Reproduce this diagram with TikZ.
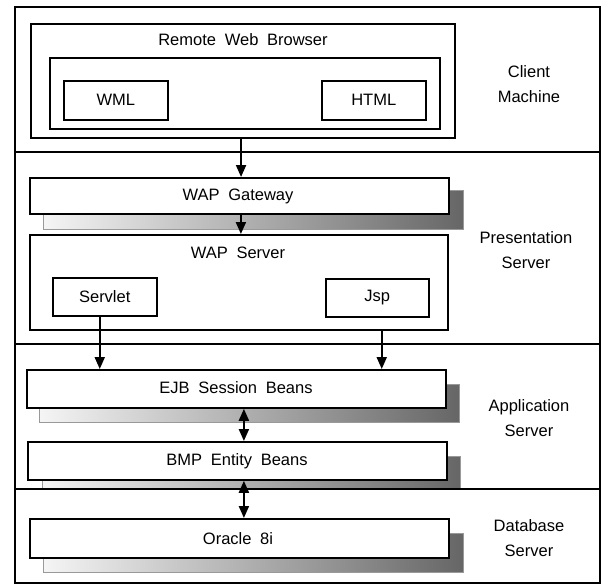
\documentclass[tikz,border=0pt]{standalone}
\usepackage{fontspec}
\setmainfont{Liberation Sans}[WordSpace=1.9]
\usetikzlibrary{arrows.meta,calc}

\tikzset{
  frame/.style={line width=2.4pt},
  box/.style={draw, line width=1.8pt, fill=white, inner sep=0pt, anchor=north west},
  inbox/.style={draw, line width=1.5pt, fill=white, inner sep=0pt, anchor=north west},
  shadowbox/.style={draw=black!40, line width=0.6pt, left color=black!4, right color=black!60,
    inner sep=0pt, anchor=north west},
  txt/.style={inner sep=0pt, font=\fontsize{16.5}{25}\selectfont, align=center},
  tip/.style={},
  arr/.style={line width=2pt, -{Triangle[length=12pt,width=10pt]}},
  darr/.style={line width=2pt, {Triangle[length=12pt,width=10pt]}-{Triangle[length=12pt,width=10pt]}},
}

\begin{document}
\begin{tikzpicture}[x=1pt, y=-1pt]
\useasboundingbox (0,0) rectangle (603,584);

% tier frame and separators
\draw[frame] (15,7) rectangle (600,583);
\draw[frame] (15,152) -- (600,152);
\draw[frame] (15,344) -- (600,344);

% ---- client machine ----
\node[box, line width=2.1pt, minimum width=424pt, minimum height=114pt] (rwb) at (30,23) {};
\node[txt] (rwbt) at (243,40) {Remote Web Browser};
\node[inbox, minimum width=390pt, minimum height=71pt] (rwbin) at (49,57) {};
\node[inbox, minimum width=104pt, minimum height=39pt] (wml) at (63,80) {};
\node[txt] at (wml.center) {WML};
\node[inbox, minimum width=104pt, minimum height=39pt] (html) at (321,80) {};
\node[txt] at (html.center) {HTML};
\node[txt] (client) at (529,84) {Client\\Machine};

% ---- presentation server ----
\node[shadowbox, minimum width=420pt, minimum height=39pt] (gws) at (43,190) {};
\node[box, minimum width=419pt, minimum height=36pt] (gw) at (29,177) {};
\node[txt] (gwt) at (238,196) {WAP Gateway};
\node[box, minimum width=418pt, minimum height=95pt] (ws) at (29,234) {};
\node[txt] (wst) at (238,253) {WAP Server};
\node[inbox, minimum width=104pt, minimum height=38pt] (servlet) at (52,277) {};
\node[txt] at (servlet.center) {Servlet};
\node[inbox, minimum width=103pt, minimum height=38pt] (jsp) at (325,278) {};
\node[txt] at (jsp.center) {Jsp};
\node[txt] (pres) at (526,250) {Presentation\\Server};

% ---- application server ----
\node[shadowbox, minimum width=420pt, minimum height=38pt] (ejbs) at (39,384) {};
\node[box, minimum width=419pt, minimum height=38pt] (ejb) at (26,369) {};
\node[txt] (ejbt) at (236,388) {EJB Session Beans};
\node[shadowbox, minimum width=418pt, minimum height=33pt] (bmps) at (42,456) {};
\node[box, minimum width=419pt, minimum height=38pt] (bmp) at (27,441) {};
\node[txt] (bmpt) at (237,461) {BMP Entity Beans};
\node[txt] (app) at (529,418) {Application\\Server};
\draw[frame] (15,489) -- (600,489);

% ---- database server ----
\node[shadowbox, minimum width=420pt, minimum height=39pt] (oras) at (43,533) {};
\node[box, minimum width=419pt, minimum height=39pt] (ora) at (29,518) {};
\node[txt] (orat) at (238,539) {Oracle 8i};
\node[txt] (db) at (529,538) {Database\\Server};

% ---- connectors ----
\coordinate (c1) at ([xshift=-2pt]rwb.south);
\draw[arr] (c1) -- (c1 |- gw.north);
\coordinate (c2) at ([xshift=1.5pt]gw.south);
\draw[arr] (c2) -- (c2 |- ws.north);
\coordinate (c3) at ([xshift=-5pt]servlet.south);
\draw[arr] (c3) -- (c3 |- ejb.north);
\coordinate (c4) at ([xshift=4.5pt]jsp.south |- ws.south);
\draw[arr] (c4) -- (c4 |- ejb.north);
\coordinate (c5) at ([xshift=7.5pt]ejb.south);
\draw[darr] (c5) -- (c5 |- bmp.north);
\coordinate (c6) at ([xshift=6.5pt]bmp.south);
\draw[darr] (c6) -- (c6 |- ora.north);
\end{tikzpicture}
\end{document}
